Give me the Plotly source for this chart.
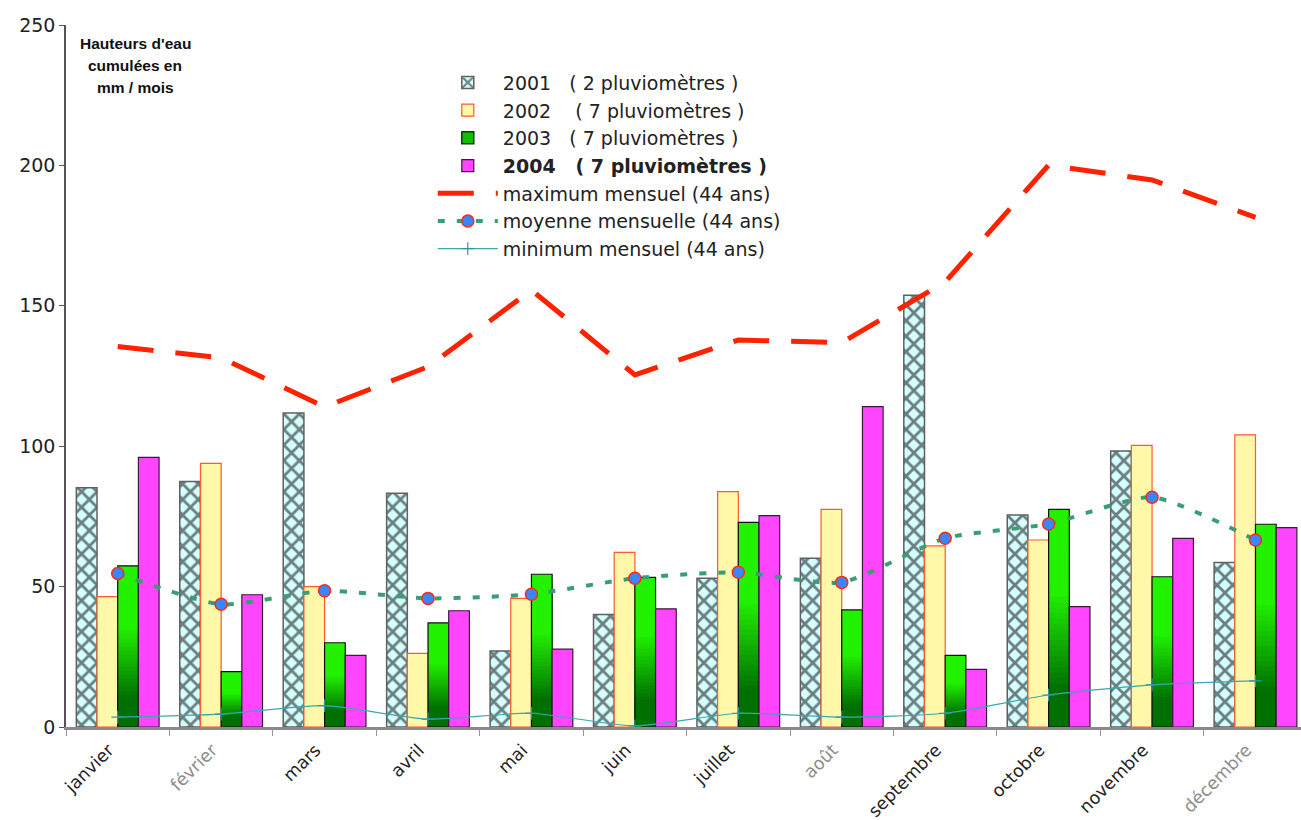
import plotly.graph_objects as go

# Monthly rainfall totals (mm / month)
months = ["janvier", "février", "mars", "avril", "mai", "juin",
          "juillet", "août", "septembre", "octobre", "novembre", "décembre"]
# month labels drawn in grey
grey_months = ["février", "août", "décembre"]

rain_2001 = [85.2, 87.4, 111.8, 83.2, 27.1, 40.1, 53.0, 60.1, 153.8, 75.5, 98.3, 58.6]
rain_2002 = [46.4, 93.9, 50.0, 26.2, 45.8, 62.2, 83.8, 77.5, 64.5, 66.6, 100.3, 104.0]
rain_2003 = [57.4, 19.7, 30.0, 37.1, 54.4, 53.3, 72.9, 41.7, 25.5, 77.5, 53.5, 72.2]
rain_2004 = [96.0, 47.1, 25.5, 41.4, 27.7, 42.1, 75.3, 114.1, 20.5, 42.9, 67.2, 71.0]

max_44 = [135.5, 131.5, 114.0, 128.3, 155.6, 125.4, 137.8, 136.9, 158.5, 200.1, 194.8, 181.5]
mean_44 = [54.7, 43.7, 48.5, 45.8, 47.3, 53.0, 55.1, 51.5, 67.2, 72.3, 81.8, 66.6]
min_44 = [3.5, 4.6, 7.6, 2.8, 4.9, 0.4, 4.9, 3.5, 4.9, 11.4, 15.0, 16.4]

names = ["2001\u00a0\u00a0\u00a0( 2 pluviomètres )",
         "2002\u00a0\u00a0\u00a0\u00a0( 7 pluviomètres )",
         "2003\u00a0\u00a0\u00a0( 7 pluviomètres )",
         "<b>2004\u00a0\u00a0\u00a0( 7 pluviomètres )</b>",
         "maximum mensuel (44 ans)",
         "moyenne mensuelle (44 ans)",
         "minimum mensuel (44 ans)"]

y_title_lines = ["Hauteurs d'eau", "cumulées en", "mm / mois"]

FONT = "Verdana, DejaVu Sans, sans-serif"

fig = go.Figure()

# 2001: light cyan with black lattice pattern
fig.add_trace(go.Bar(
    x=months, y=rain_2001, name=names[0], offsetgroup="a", legendrank=1,
    marker=dict(color="#d6ffff",
                line=dict(color="#606060", width=1.5),
                pattern=dict(shape="x", fgcolor="#000000", bgcolor="#d6ffff",
                             size=11, solidity=0.45, fillmode="overlay")),
))

# 2002: pale yellow, orange-red outline
fig.add_trace(go.Bar(
    x=months, y=rain_2002, name=names[1], offsetgroup="b", legendrank=2,
    marker=dict(color="#fff8a8", line=dict(color="#ff5a30", width=1.2)),
))


# 2003: vertical green gradient, built from nested bars sharing one slot
def green_at(f):
    dark = (0, 112, 0)
    bright = (34, 242, 0)
    lo, hi = 0.18, 0.62
    t = 0.0 if f <= lo else 1.0 if f >= hi else (f - lo) / (hi - lo)
    c = [round(d + (b - d) * t) for d, b in zip(dark, bright)]
    return "rgb(%d,%d,%d)" % tuple(c)


N = 40
for i in range(N):
    frac = (N - i) / N
    fig.add_trace(go.Bar(
        x=months, y=[v * frac for v in rain_2003], offsetgroup="c",
        marker=dict(color=green_at((N - i - 0.5) / N), line=dict(width=0)),
        showlegend=False, hoverinfo="skip",
    ))
# outline of the 2003 bars
fig.add_trace(go.Bar(
    x=months, y=rain_2003, offsetgroup="c", showlegend=False,
    marker=dict(color="rgba(0,0,0,0)", line=dict(color="#111111", width=1.2)),
))
# legend entry for 2003
fig.add_trace(go.Bar(
    x=months, y=[None] * len(months), name=names[2], offsetgroup="c", legendrank=3,
    marker=dict(color="#10c000", line=dict(color="#0a3a0a", width=1.5)),
))

# 2004: magenta
fig.add_trace(go.Bar(
    x=months, y=rain_2004, name=names[3], offsetgroup="d", legendrank=4,
    marker=dict(color="#ff45ff", line=dict(color="#3a1a3a", width=1.2)),
))

# 44-year statistics
fig.add_trace(go.Scatter(
    x=months, y=max_44, name=names[4], mode="lines", legendrank=5,
    line=dict(color="#ff2200", width=5, dash="36px,22px"),
))
fig.add_trace(go.Scatter(
    x=months, y=mean_44, name=names[5], mode="lines+markers", legendrank=6,
    line=dict(color="#3a9e74", width=4, dash="7px,12px", shape="spline", smoothing=0.6),
    marker=dict(symbol="circle", size=12, color="#3a86ff",
                line=dict(color="#ff2a10", width=1.5)),
))
fig.add_trace(go.Scatter(
    x=months, y=min_44, name=names[6], mode="lines+markers", legendrank=7,
    line=dict(color="#3aa8b0", width=1.2, shape="spline", smoothing=0.6),
    marker=dict(symbol="cross-thin", size=9, line=dict(color="#2a9aa0", width=1.2)),
))

ticktext = ["<span style='color:#8c8c8c'>%s</span>" % m if m in grey_months else m
            for m in months]

fig.update_layout(
    width=1301, height=820,
    margin=dict(l=66, r=0, t=25, b=93),
    paper_bgcolor="white", plot_bgcolor="white",
    barmode="group", bargap=0.2, bargroupgap=0,
    font=dict(family=FONT, size=17, color="#222222"),
    showlegend=True,
    legend=dict(x=0.297, y=0.945, xanchor="left", yanchor="top",
                bgcolor="rgba(0,0,0,0)", font=dict(size=19, color="#222222"),
                tracegroupgap=0, itemwidth=60),
    xaxis=dict(
        type="category", range=[-0.5, 11.44], automargin=False,
        tickmode="array", tickvals=months, ticktext=ticktext,
        tickangle=-45, tickson="boundaries", ticks="outside", ticklen=6,
        ticklabelshift=-9, ticklabelstandoff=3,
        tickcolor="#a090a0", showline=True, linecolor="#8a8a8a", linewidth=3,
        showgrid=False, zeroline=False, tickfont=dict(size=17.5, color="#222222"),
    ),
    yaxis=dict(
        range=[0, 250], tickvals=[0, 50, 100, 150, 200, 250], automargin=False,
        ticks="outside", ticklen=5, tickcolor="#555555",
        showline=True, linecolor="#5a505a", linewidth=1.5,
        showgrid=False, zeroline=False, tickfont=dict(size=19, color="#222222"),
    ),
)

for k, line in enumerate(y_title_lines):
    fig.add_annotation(
        text="<b>%s</b>" % line, xref="paper", yref="paper",
        x=0.056, y=0.988 - k * 0.031, xanchor="center", yanchor="top",
        showarrow=False,
        font=dict(family="Liberation Sans, Arial, sans-serif", size=15.5, color="#111111"),
    )

fig.write_html("out.html")
